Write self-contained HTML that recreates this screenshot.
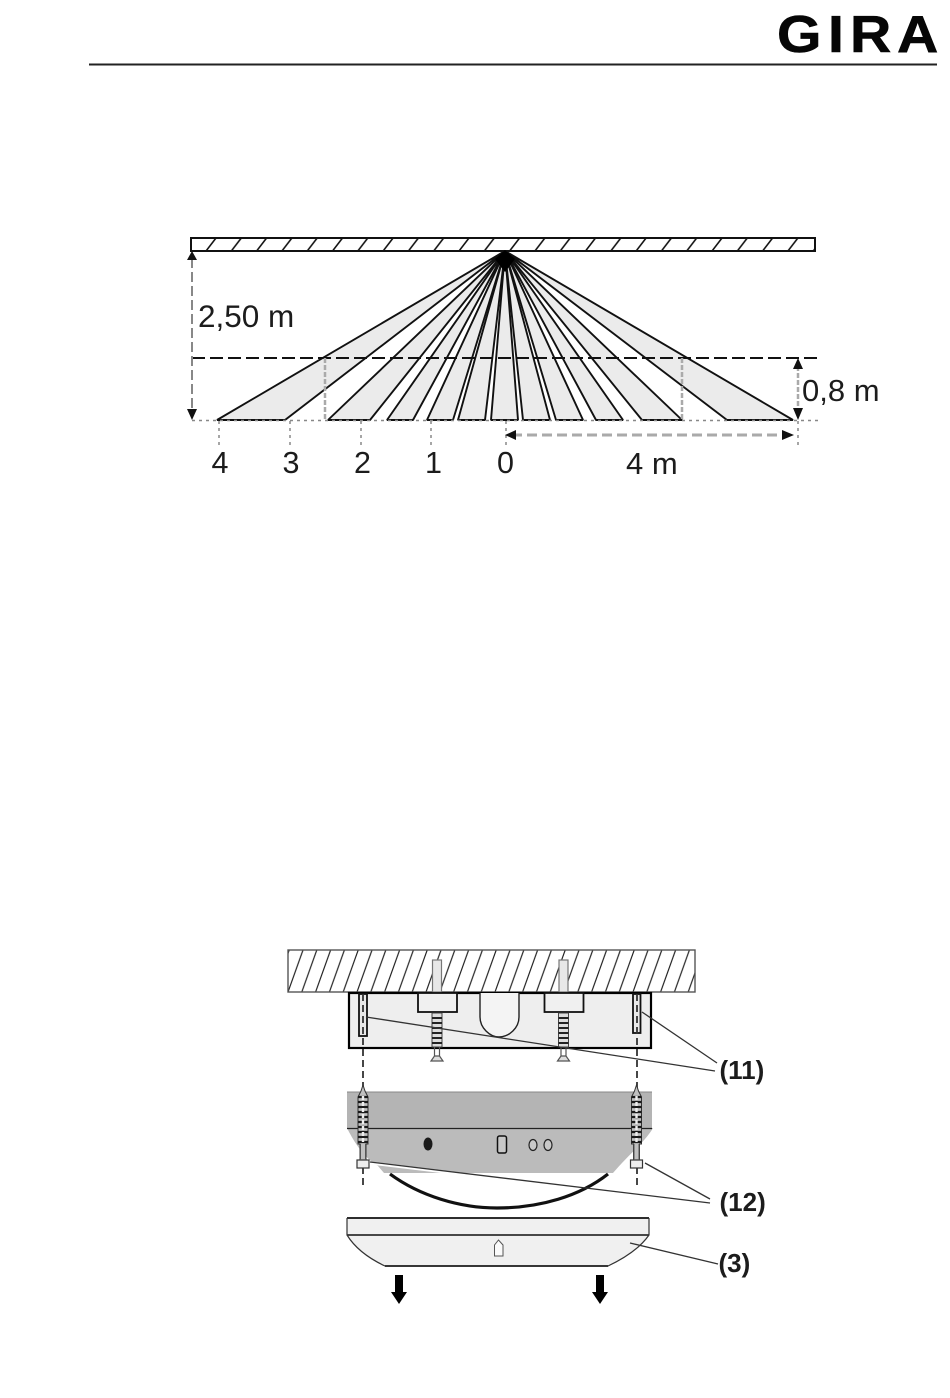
<!DOCTYPE html>
<html><head><meta charset="utf-8">
<style>html,body{margin:0;padding:0;background:#fff;width:950px;height:1398px;overflow:hidden}svg{display:block;filter:blur(0.35px)}text{font-family:"Liberation Sans",Arial,sans-serif;fill:#1c1c1c}</style>
</head><body>
<svg width="950" height="1398" viewBox="0 0 950 1398" xmlns="http://www.w3.org/2000/svg">
<defs>
<pattern id="h1" patternUnits="userSpaceOnUse" x="206" y="238" width="25.3" height="13"><line x1="0" y1="13" x2="10" y2="0" stroke="#111" stroke-width="1.600"/><line x1="25.3" y1="13" x2="35.3" y2="0" stroke="#111" stroke-width="1.600"/><line x1="-25.3" y1="13" x2="-15.3" y2="0" stroke="#111" stroke-width="1.600"/></pattern>
<pattern id="h2" patternUnits="userSpaceOnUse" x="288" y="950" width="13.8" height="42"><g stroke="#222" stroke-width="1.200"><line x1="0" y1="42" x2="15" y2="0"/><line x1="-13.8" y1="42" x2="1.2" y2="0"/><line x1="13.8" y1="42" x2="28.8" y2="0"/></g></pattern>
<g id="scr"><path d="M-2 -3L0 -9L2 -3L5 3V50H3V72H-3V50H-5V3Z" fill="#c0c0c0" stroke="#333" stroke-width="1"/><path d="M-5 3H5M-5 8H5M-5 13H5M-5 18H5M-5 23H5M-5 28H5M-5 33H5M-5 38H5M-5 43H5M-5 48H5" stroke="#1a1a1a" stroke-width="2.200" fill="none"/><line x1="0" y1="2" x2="0" y2="48" stroke="#eee" stroke-width="2.400" stroke-dasharray="4 2"/><rect x="-6" y="66" width="12" height="8" fill="#eee" stroke="#333" stroke-width="1.200"/><line x1="-2.500" y1="50" x2="-2.500" y2="66" stroke="#555"/><line x1="2.500" y1="50" x2="2.500" y2="66" stroke="#555"/></g>
<g id="plug"><rect x="-4.500" y="-52" width="9" height="32" fill="#e8e8e8" stroke="#777" stroke-width="1.200"/><rect x="-19" y="-19" width="39" height="19" fill="#f0f0f0" stroke="#111" stroke-width="1.800"/><rect x="-5" y="1" width="10" height="34" fill="#ddd" stroke="#444" stroke-width="1"/><path d="M-5 6H5M-5 11H5M-5 16H5M-5 21H5M-5 26H5M-5 31H5" stroke="#222" stroke-width="2"/><path d="M-2.500 35V44M2.500 35V44" stroke="#555" stroke-width="1.200"/><path d="M-6 49L-2.500 44H2.500L6 49Z" fill="#ddd" stroke="#555" stroke-width="1.200"/></g>
</defs>

<text transform="scale(1.1 1)" y="52" font-size="52" font-weight="700" x="706.400 752.700 772.700 815.500" style="fill:#060606;stroke:#060606;stroke-width:0.6">GIRA</text>
<rect x="89" y="63.500" width="848" height="2" fill="#222"/>

<rect x="191" y="238" width="624" height="13" fill="url(#h1)" stroke="#111" stroke-width="2"/>

<g fill="#ebebeb" stroke="#111" stroke-width="1.900" stroke-linejoin="bevel">
<polygon points="505,251 217,420 285,420"/>
<polygon points="505,251 328,420 370,420"/>
<polygon points="505,251 387,420 413,420"/>
<polygon points="505,251 427,420 453,420"/>
<polygon points="505,251 458,420 485,420"/>
<polygon points="505,251 491,420 518,420"/>
<polygon points="505,251 523,420 550,420"/>
<polygon points="505,251 556,420 583,420"/>
<polygon points="505,251 596,420 623,420"/>
<polygon points="505,251 642,420 682,420"/>
<polygon points="505,251 727,420 793,420"/>
</g>
<polygon points="505,250 495,259 505,272 515,259" fill="#000"/>

<line x1="192" y1="358" x2="818" y2="358" stroke="#111" stroke-width="2" stroke-dasharray="13 5"/>
<g stroke="#aaa" stroke-width="2.500" fill="none">
<line x1="325" y1="358" x2="325" y2="420" stroke-dasharray="5 2"/>
<line x1="682" y1="358" x2="682" y2="420" stroke-dasharray="5 2"/>
<line x1="192" y1="258" x2="192" y2="414" stroke="#888" stroke-width="2" stroke-dasharray="10 4"/>
<line x1="798" y1="366" x2="798" y2="412" stroke="#aaa" stroke-dasharray="5 2"/>
<line x1="512" y1="435" x2="788" y2="435" stroke-width="3" stroke-dasharray="10 5"/>
</g>
<g stroke="#888" stroke-width="1.500" fill="none" stroke-dasharray="3 4">
<line x1="192" y1="420.500" x2="818" y2="420.500"/>
<line x1="219" y1="421" x2="219" y2="447"/>
<line x1="290" y1="421" x2="290" y2="447"/>
<line x1="361" y1="421" x2="361" y2="447"/>
<line x1="431" y1="421" x2="431" y2="447"/>
<line x1="506" y1="421" x2="506" y2="447"/>
<line x1="798" y1="421" x2="798" y2="447"/>
</g>
<g fill="#111">
<polygon points="192,251 187,260 197,260"/>
<polygon points="192,420 187,409 197,409"/>
<polygon points="798,358 793,369 803,369"/>
<polygon points="798,420 793,408 803,408"/>
<polygon points="505,435 516,430 516,440"/>
<polygon points="794,435 782,430 782,440"/>
</g>

<text x="198" y="327" font-size="31.500">2,50 m</text>
<text x="802" y="401" font-size="31">0,8 m</text>
<text x="626" y="474" font-size="31">4 m</text>
<text x="211.500" y="473" font-size="30.500">4</text>
<text x="282.500" y="473" font-size="30.500">3</text>
<text x="354" y="473" font-size="30.500">2</text>
<text x="425" y="473" font-size="30.500">1</text>
<text x="497" y="473" font-size="30.500">0</text>

<rect x="288" y="950" width="407" height="42" fill="url(#h2)" stroke="#555" stroke-width="1.400"/>
<rect x="349" y="993" width="302" height="55" fill="#eeeeee" stroke="#000" stroke-width="2.200"/>
<path d="M480 993V1017C480 1028 490 1037 499 1037C509 1037 519 1028 519 1017V993" fill="#f4f4f4" stroke="#222" stroke-width="1.400"/>
<use href="#plug" x="437" y="1012"/>
<use href="#plug" x="563.500" y="1012"/>
<rect x="359" y="994" width="8" height="42" fill="#e8e8e8" stroke="#111" stroke-width="1.800"/>
<rect x="633" y="994" width="7.500" height="39" fill="#e8e8e8" stroke="#111" stroke-width="1.800"/>

<path d="M363 994V1088M637 994V1088M363 1167V1187M637 1167V1187" stroke="#333" stroke-width="1.800" stroke-dasharray="7 4" fill="none"/>

<rect x="347" y="1092" width="305" height="36" fill="#b4b4b4"/>
<line x1="347" y1="1092" x2="652" y2="1092" stroke="#888" stroke-width="1"/>
<path d="M347 1128H653C645 1142 628 1155 613 1173H384L378 1166C364 1158 354 1142 347 1128Z" fill="#bbbbbb"/>
<line x1="347" y1="1128.500" x2="652" y2="1128.500" stroke="#222" stroke-width="1.200"/>
<path d="M390 1174C420 1196 460 1208 497 1208C540 1208 580 1196 608 1174" fill="none" stroke="#111" stroke-width="3.200"/>
<ellipse cx="428" cy="1144" rx="4.500" ry="6.500" fill="#1a1a1a"/>
<rect x="497.500" y="1136" width="9" height="17" rx="2" fill="#c8c8c8" stroke="#111" stroke-width="1.500"/>
<ellipse cx="533" cy="1145" rx="4" ry="5.500" fill="#c8c8c8" stroke="#222" stroke-width="1.200"/>
<ellipse cx="548" cy="1145" rx="4" ry="5.500" fill="#c8c8c8" stroke="#222" stroke-width="1.200"/>
<use href="#scr" x="363" y="1094"/>
<use href="#scr" x="636.500" y="1094"/>

<path d="M347 1218H649V1235C640 1248 625 1258 608 1266H385C368 1258 355 1248 347 1235Z" fill="#f0f0f0"/>
<path d="M347 1218H649" stroke="#111" stroke-width="1.800" fill="none"/>
<path d="M347 1235H649" stroke="#111" stroke-width="1.500" fill="none"/>
<path d="M347 1218V1235C355 1248 368 1258 385 1266H608C625 1258 640 1248 649 1235V1218" stroke="#333" stroke-width="1.200" fill="none"/>
<path d="M385 1266H608" stroke="#222" stroke-width="1.800" fill="none"/>
<path d="M494.500 1256V1245L498.500 1240L503 1245V1256Z" fill="#fafafa" stroke="#555" stroke-width="1"/>

<polygon points="395,1275 403,1275 403,1292 407,1292 399,1304 391,1292 395,1292" fill="#000"/>
<polygon points="596,1275 604,1275 604,1292 608,1292 600,1304 592,1292 596,1292" fill="#000"/>

<line x1="370" y1="1163" x2="520" y2="1181" stroke="#fff" stroke-width="3"/>
<g stroke="#333" stroke-width="1.300" fill="none">
<line x1="366" y1="1017" x2="715" y2="1071"/>
<line x1="642" y1="1012" x2="717" y2="1063"/>
<line x1="370" y1="1162" x2="710" y2="1203"/>
<line x1="645" y1="1163" x2="710" y2="1199"/>
<line x1="630" y1="1243" x2="718" y2="1264"/>
</g>

<text x="719.500" y="1079" font-size="26" font-weight="700">(11)</text>
<text x="719.500" y="1211" font-size="26" font-weight="700">(12)</text>
<text x="718.500" y="1272" font-size="26" font-weight="700">(3)</text>
</svg>
</body></html>
